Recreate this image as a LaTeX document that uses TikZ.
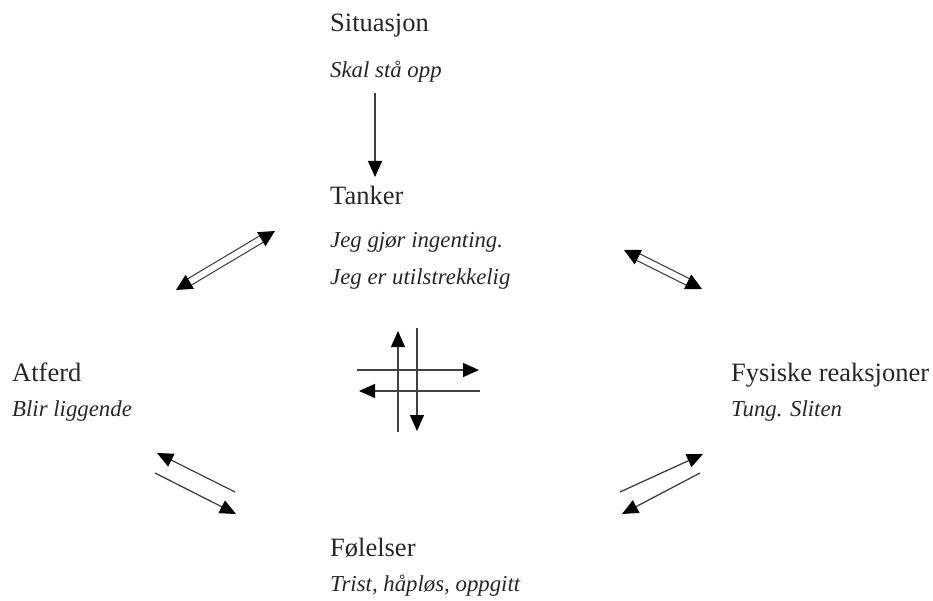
\documentclass[tikz,border=0pt]{standalone}
\usepackage{fontspec}
\setmainfont{Liberation Serif}
\usetikzlibrary{arrows.meta}
\tikzset{
  head/.style={font=\fontsize{26.5}{30}\selectfont, anchor=base west, inner sep=0pt, text=black!85},
  sub/.style={font=\fontsize{22.8}{27}\selectfont\itshape, anchor=base west, inner sep=0pt, text=black!85},
  arr/.style={draw=black!75, line width=1.3pt, -{Triangle[length=16pt,width=14pt,color=black]}},
  darr/.style={draw=black!75, line width=1.2pt, double=white, double distance=6pt,
     {Triangle[length=16pt,width=16pt,color=black]}-{Triangle[length=16pt,width=16pt,color=black]}}
}
\begin{document}
\begin{tikzpicture}[x=1pt,y=-1pt]
\useasboundingbox (0,0) rectangle (933,601);
\node[head] (sit) at (330,32) {Situasjon};
\node[sub] (sits) at (330,78) {Skal stå opp};
\node[head] (tan) at (330,205) {Tanker};
\node[sub] (tan1) at (330,248) {Jeg gjør ingenting.};
\node[sub] (tan2) at (330,284) {Jeg er utilstrekkelig};
\node[head] (atf) at (12,381) {Atferd};
\node[sub] (atfs) at (12,416) {Blir liggende};
\node[head] (fys) at (731,381) {Fysiske reaksjoner};
\node[sub] (fyss) at (731,416) {Tung. Sliten};
\node[head] (fol) at (330,556) {Følelser};
\node[sub] (fols) at (330,591) {Trist, håpløs, oppgitt};
% coordinates
\coordinate (s1) at (375,93);
\coordinate (s2) at (375,177);
\coordinate (tl1) at (176,290);
\coordinate (tl2) at (275,231);
\coordinate (tr1) at (624,250);
\coordinate (tr2) at (702,289);
\coordinate (u1) at (398,432);
\coordinate (u2) at (398,331);
\coordinate (d1) at (417,328);
\coordinate (d2) at (417,431);
\coordinate (r1) at (357,370);
\coordinate (r2) at (479,370);
\coordinate (l1) at (480,391);
\coordinate (l2) at (359,391);
\coordinate (bl1) at (235,492);
\coordinate (bl2) at (157,453);
\coordinate (bl3) at (155,473);
\coordinate (bl4) at (236,514);
\coordinate (br1) at (620,492);
\coordinate (br2) at (703,454);
\coordinate (br3) at (700,473);
\coordinate (br4) at (622,514);
\draw[arr] (s1) -- (s2);
\draw[darr] (tl1) -- (tl2);
\draw[darr] (tr1) -- (tr2);
\draw[arr] (u1) -- (u2);
\draw[arr] (d1) -- (d2);
\draw[arr] (r1) -- (r2);
\draw[arr] (l1) -- (l2);
\draw[arr] (bl1) -- (bl2);
\draw[arr] (bl3) -- (bl4);
\draw[arr] (br1) -- (br2);
\draw[arr] (br3) -- (br4);
\end{tikzpicture}
\end{document}
